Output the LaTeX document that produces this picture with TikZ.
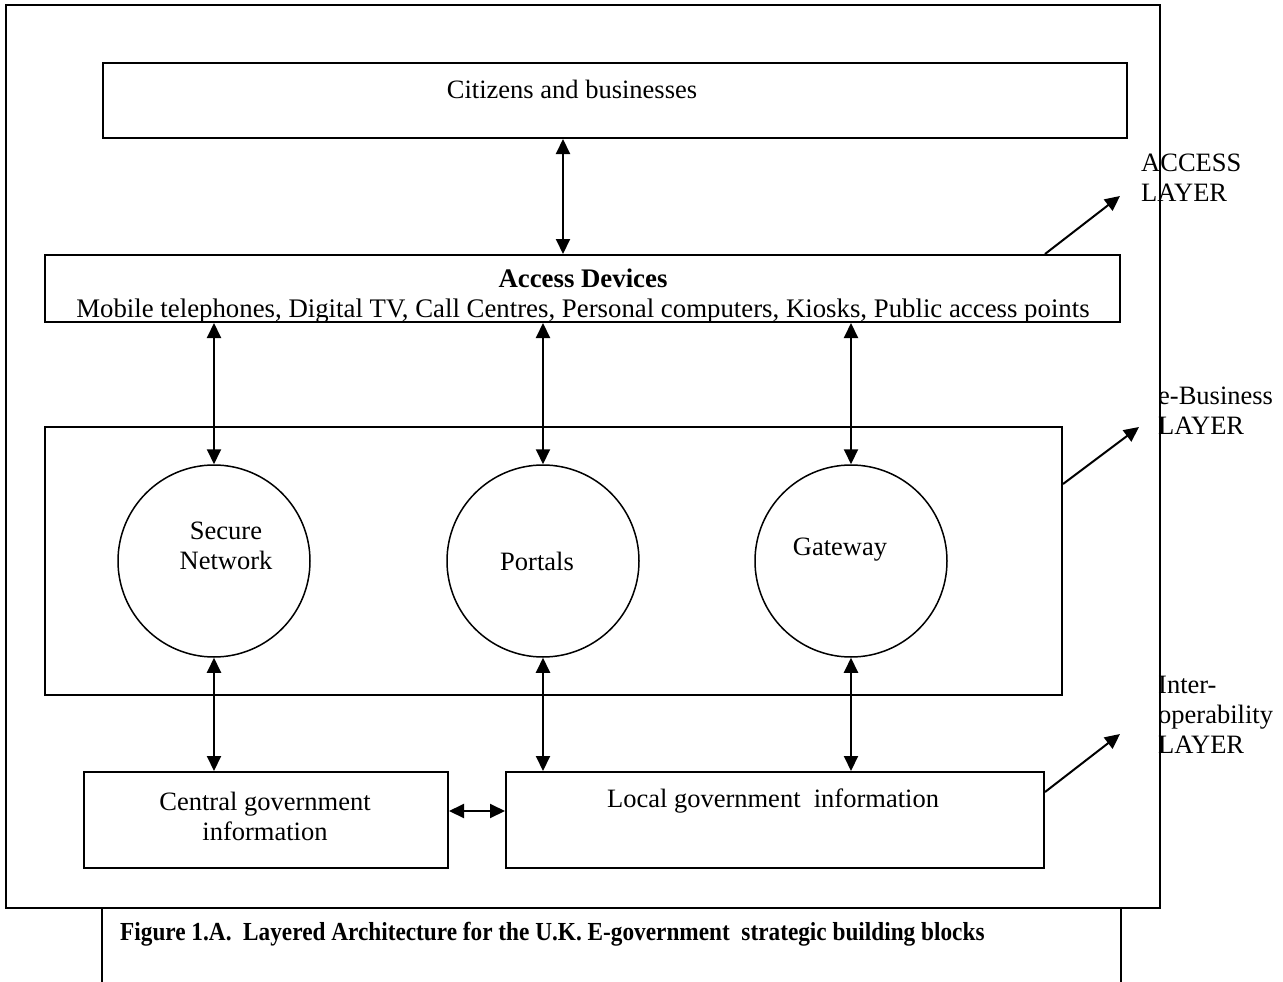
\documentclass[tikz,border=0pt]{standalone}
\usepackage{fontspec}
\setmainfont{Liberation Serif}
\usetikzlibrary{arrows.meta}
\begin{document}
\begin{tikzpicture}[x=1pt,y=-1pt,
  box/.style={draw, line width=2pt, rectangle, anchor=north west, inner sep=0},
  circ/.style={draw, line width=1.5pt, circle, minimum size=192pt, inner sep=0},
  lbl/.style={font=\fontsize{26.5}{30}\selectfont, align=center, inner sep=0},
  sidelbl/.style={font=\fontsize{26.5}{30}\selectfont, align=left, inner sep=0, anchor=north west},
  darr/.style={{Triangle[length=15pt,width=14pt]}-{Triangle[length=15pt,width=14pt]}, line width=2pt},
  sarr/.style={-{Triangle[length=15pt,width=14pt]}, line width=2pt}]
\useasboundingbox (0,0) rectangle (1283,982);
% outer frame and caption
\node[box, minimum width=1154pt, minimum height=903pt] (frame) at (5,4) {};
\draw[line width=2pt] (102,907) -- (102,984);
\draw[line width=2pt] (1121,907) -- (1121,984);
\node[font=\fontsize{26}{30}\selectfont\bfseries, anchor=west, inner sep=0] (cap) at (120,934)
  {\scalebox{0.895}[1]{Figure 1.A.\ \ Layered Architecture for the U.K. E-government\ \ strategic building blocks}};
% boxes
\node[box, minimum width=1024pt, minimum height=75pt] (cit) at (102,62) {};
\node[lbl] (citT) at (572,89) {Citizens and businesses};
\node[box, minimum width=1075pt, minimum height=67pt] (acc) at (44,254) {};
\node[lbl, font=\fontsize{26.8}{30}\selectfont] (accT) at (583,296) {\textbf{Access Devices}\\Mobile telephones, Digital TV, Call Centres, Personal computers, Kiosks, Public access points};
\node[box, minimum width=1017pt, minimum height=268pt] (eb) at (44,426) {};
\node[circ] (sn) at (214,561) {};
\node[lbl] (snT) at (226,546) {Secure\\Network};
\node[circ] (po) at (543,561) {};
\node[lbl] (poT) at (537,561) {Portals};
\node[circ] (gw) at (851,561) {};
\node[lbl] (gwT) at (840,550) {Gateway};
\node[box, minimum width=364pt, minimum height=96pt] (cg) at (83,771) {};
\node[lbl] (cgT) at (265,816) {Central government\\information};
\node[box, minimum width=538pt, minimum height=96pt] (lg) at (505,771) {};
\node[lbl] (lgT) at (773,801) {Local government\ \ information};
% connectors
\draw[darr] (cit.south -| 563,0) -- (acc.north -| 563,0);
\draw[darr] (acc.south -| sn.north) -- (sn.north);
\draw[darr] (acc.south -| po.north) -- (po.north);
\draw[darr] (acc.south -| gw.north) -- (gw.north);
\draw[darr] (sn.south) -- (cg.north -| sn.south);
\draw[darr] (po.south) -- (lg.north -| po.south);
\draw[darr] (gw.south) -- (lg.north -| gw.south);
\draw[darr] ([yshift=9pt]cg.east) -- ([yshift=9pt]lg.west);
% side labels
\node[sidelbl] (la) at (1141,154) {ACCESS\\LAYER};
\node[sidelbl] (lb) at (1158,387) {e-Business\\LAYER};
\node[sidelbl] (lc) at (1158,676) {Inter-\\operability\\LAYER};
\coordinate (ta) at (1120,196);
\coordinate (tb) at (1139,427);
\coordinate (tc) at (1120,734);
\draw[sarr] (acc.north east) ++(-76pt,0) -- (ta);
\draw[sarr] ([yshift=-58pt]eb.north east) -- (tb);
\draw[sarr] ([yshift=-21pt]lg.north east) -- (tc);
\end{tikzpicture}
\end{document}
